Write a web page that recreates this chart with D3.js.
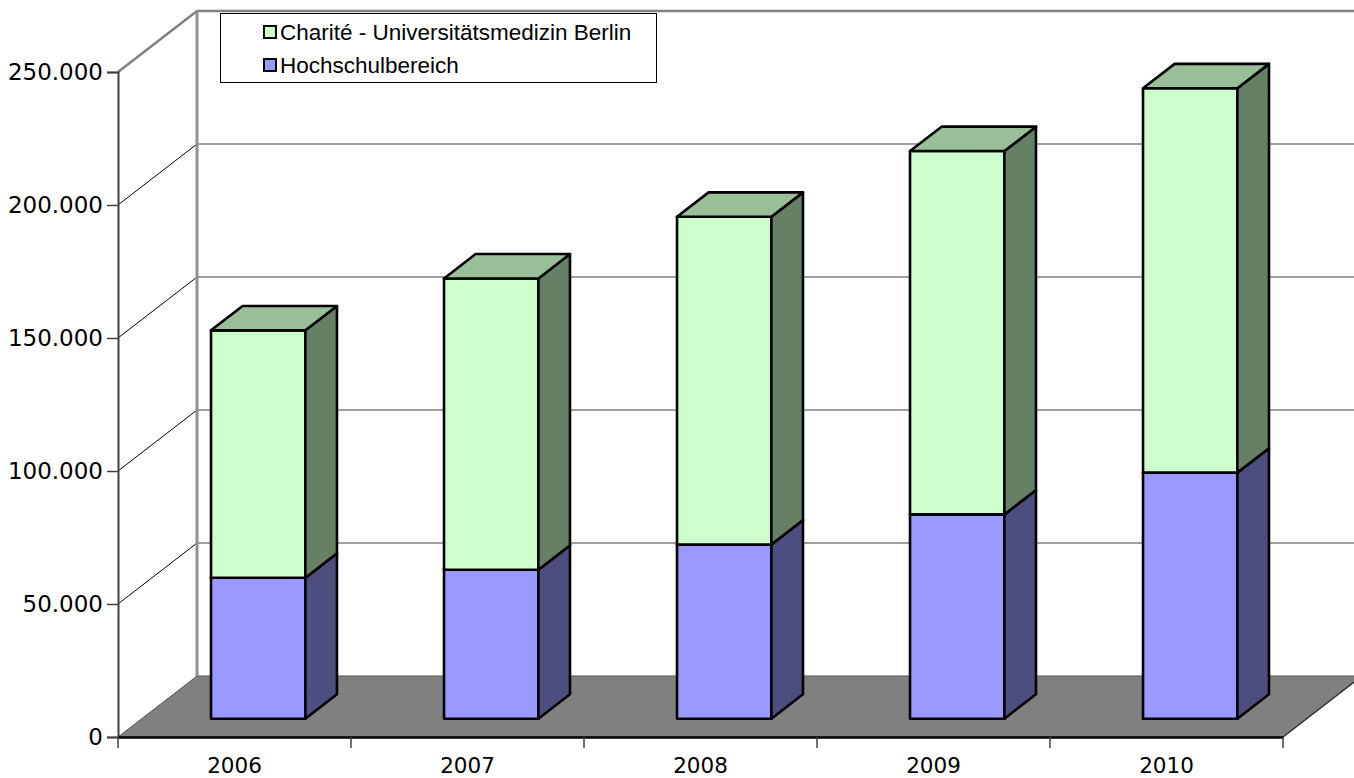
<!DOCTYPE html>
<html>
<head>
<meta charset="utf-8">
<script src="https://cdn.jsdelivr.net/npm/d3@7"></script>
<style>
html,body{margin:0;padding:0;background:#fff;overflow:hidden;}
svg{display:block;}
</style>
</head>
<body>
<svg id="chart" width="1354" height="778"></svg>
<script>
// ---- data ----
const years = ["2006", "2007", "2008", "2009", "2010"];
const hochschulbereich = [53000, 56000, 65500, 76800, 92500];
const charite = [93000, 109500, 123200, 136600, 144500];
const yTickValues = [0, 50000, 100000, 150000, 200000, 250000];
const seriesNames = ["Charité - Universitätsmedizin Berlin", "Hochschulbereich"];

// ---- layout ----
const plotLeft = 118, plotRight = 1283, plotBottom = 737, plotTop = 72;
const DX = 79, DY = -61;           // wall depth projection
const barD0 = 0.3, barD1 = 0.7;    // bar depth range (fraction)
const barWidthFrac = 0.405;

const svg = d3.select("#chart");
const x = d3.scaleBand().domain(years).range([plotLeft, plotRight]).padding(0);
const y = d3.scaleLinear().domain([0, 250000]).range([plotBottom, plotTop]);
const fmt = v => d3.format(",")(v).replace(/,/g, ".");

const P = (px, py, d) => [px + DX * d, py + DY * d];
const poly = pts => "M" + pts.map(p => p.join(",")).join("L") + "Z";

// back wall
const g = svg.append("g");
g.append("path")
  .attr("d", poly([P(plotLeft, y(0), 1), P(plotRight, y(0), 1), P(plotRight, y(250000), 1), P(plotLeft, y(250000), 1)]))
  .attr("fill", "#fff");

// floor
g.append("path")
  .attr("d", poly([P(plotLeft, y(0), 0), P(plotRight, y(0), 0), P(plotRight, y(0), 1), P(plotLeft, y(0), 1)]))
  .attr("fill", "#808080").attr("stroke", "#555").attr("stroke-width", 1);

// back wall gridlines + side wall gridlines
yTickValues.filter(v => v > 0 && v < 250000).forEach(v => {
  const a = P(plotLeft, y(v), 1), b = P(plotRight, y(v), 1);
  g.append("line").attr("x1", a[0]).attr("y1", a[1]).attr("x2", b[0]).attr("y2", b[1])
    .attr("stroke", "#808080").attr("stroke-width", 1.3);
  const c = P(plotLeft, y(v), 0);
  g.append("line").attr("x1", c[0]).attr("y1", c[1]).attr("x2", a[0]).attr("y2", a[1])
    .attr("stroke", "#000").attr("stroke-width", 1);
});

// wall frame (gray)
{
  const a = P(plotLeft, y(250000), 0), b = P(plotLeft, y(250000), 1), c = P(plotRight, y(250000), 1), d0 = P(plotLeft, y(0), 1);
  g.append("path").attr("d", `M${a}L${b}L${c}`).attr("fill", "none").attr("stroke", "#808080").attr("stroke-width", 2.5);
  g.append("line").attr("x1", b[0]).attr("y1", b[1]).attr("x2", d0[0]).attr("y2", d0[1])
    .attr("stroke", "#909090").attr("stroke-width", 3);
  const e = P(plotRight, y(0), 0), f = P(plotRight, y(0), 1);
  g.append("line").attr("x1", e[0]).attr("y1", e[1]).attr("x2", f[0]).attr("y2", f[1])
    .attr("stroke", "#333").attr("stroke-width", 1.5);
}

// bars
const stacks = years.map((yr, i) => [
  { base: 0, top: hochschulbereich[i], front: "#9999FF", side: "#4D4D80", topc: "#7373BF" },
  { base: hochschulbereich[i], top: hochschulbereich[i] + charite[i], front: "#CCFFCC", side: "#668066", topc: "#99BF99" }
]);
const bars = svg.append("g");
years.forEach((yr, i) => {
  const bw = x.bandwidth() * barWidthFrac;
  const x0 = x(yr) + (x.bandwidth() - bw) / 2, x1 = x0 + bw;
  stacks[i].forEach(s => {
    const yb = y(s.base), yt = y(s.top);
    const sty = sel => sel.attr("stroke", "#000").attr("stroke-width", 2.6).attr("stroke-linejoin", "round");
    bars.append("path").attr("d", poly([P(x0, yb, barD0), P(x1, yb, barD0), P(x1, yt, barD0), P(x0, yt, barD0)]))
      .attr("fill", s.front).call(sty);
    bars.append("path").attr("d", poly([P(x1, yb, barD0), P(x1, yb, barD1), P(x1, yt, barD1), P(x1, yt, barD0)]))
      .attr("fill", s.side).call(sty);
    bars.append("path").attr("d", poly([P(x0, yt, barD0), P(x1, yt, barD0), P(x1, yt, barD1), P(x0, yt, barD1)]))
      .attr("fill", s.topc).call(sty);
  });
});

// value axis (front)
const yAxis = svg.append("g").attr("transform", `translate(${plotLeft},0)`)
  .call(d3.axisLeft(y).tickValues(yTickValues).tickFormat(fmt).tickSize(11).tickPadding(4));
yAxis.select(".domain").attr("stroke", "#404040").attr("stroke-width", 2);
yAxis.selectAll(".tick line").attr("stroke", "#404040").attr("stroke-width", 1.5);
yAxis.selectAll("text").attr("font-family", "DejaVu Sans, Verdana, sans-serif").attr("font-size", 23).attr("fill", "#000");

// category axis
const xAxis = svg.append("g").attr("transform", `translate(0,${plotBottom})`)
  .call(d3.axisBottom(x).tickSize(0).tickPadding(21));
xAxis.select(".domain").attr("stroke", "#000").attr("stroke-width", 2.5);
xAxis.selectAll("text").attr("font-family", "DejaVu Sans, Verdana, sans-serif").attr("font-size", 21.5).attr("fill", "#000");
const boundaries = years.map(yr => x(yr)).concat([plotRight]);
xAxis.selectAll(".bnd").data(boundaries).join("line").attr("class", "bnd")
  .attr("x1", d => d).attr("x2", d => d).attr("y1", 0).attr("y2", 11)
  .attr("stroke", "#404040").attr("stroke-width", 1.5);

// legend
const leg = svg.append("g");
leg.append("rect").attr("x", 220.5).attr("y", 13.5).attr("width", 436).attr("height", 69)
  .attr("fill", "#fff").attr("stroke", "#000").attr("stroke-width", 1);
const legColors = ["#CCFFCC", "#9999FF"];
seriesNames.forEach((name, i) => {
  const cy = 32 + i * 33;
  leg.append("rect").attr("x", 264).attr("y", cy - 6).attr("width", 12).attr("height", 12)
    .attr("fill", legColors[i]).attr("stroke", "#000").attr("stroke-width", 2);
  leg.append("text").attr("x", 280).attr("y", cy).attr("dy", "0.36em")
    .attr("font-family", "Liberation Sans, Arial, sans-serif").attr("font-size", 22.5).attr("fill", "#000")
    .text(name);
});
</script>
</body>
</html>
